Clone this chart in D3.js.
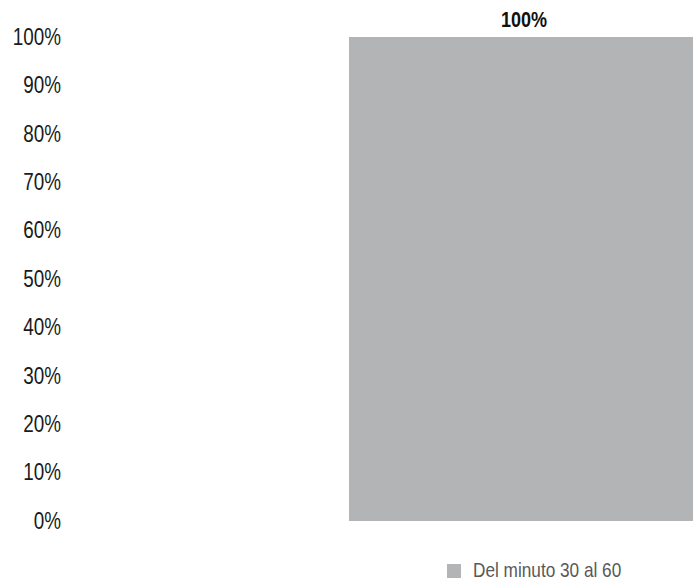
<!DOCTYPE html>
<html><head><meta charset="utf-8">
<script src="https://cdn.jsdelivr.net/npm/d3@7"></script>
<style>html,body{margin:0;padding:0;background:#fff;overflow:hidden}</style>
</head><body>
<svg id="chart" width="693" height="583"></svg>
<script>
const categories = ["Total"];
const seriesName = "Del minuto 30 al 60";
const values = [100];
const tickValues = [0, 10, 20, 30, 40, 50, 60, 70, 80, 90, 100];
const tickLabels = ["0%", "10%", "20%", "30%", "40%", "50%", "60%", "70%", "80%", "90%", "100%"];

const svg = d3.select("#chart");
const font = "'Liberation Sans', Arial, sans-serif";
const narrow = "scale(0.82,1)";
const barColor = "#b2b4b5";

const y = d3.scaleLinear().domain([0, 100]).range([521, 37]);
const x = d3.scaleBand().domain(categories).range([349, 699]).paddingInner(0).paddingOuter(0);

const yAxis = d3.axisLeft(y).tickValues(tickValues).tickFormat((d, i) => tickLabels[i]).tickSize(0).tickPadding(0);
const gy = svg.append("g").attr("transform", "translate(61,0)").call(yAxis);
gy.select(".domain").remove();
gy.selectAll("text").attr("font-family", font).attr("font-size", 23).attr("fill", "#1a1a1a")
  .attr("x", 0).attr("transform", narrow);

svg.append("g").selectAll("g").data(values).join("g")
  .attr("transform", (d, i) => `translate(${x(categories[i]) + x.bandwidth() / 2},${y(d) - 10})`)
  .append("text")
  .attr("text-anchor", "middle")
  .attr("transform", narrow)
  .attr("font-family", font).attr("font-weight", "bold").attr("font-size", 22)
  .attr("fill", "#111")
  .text(d => d + "%");

svg.append("g").selectAll("rect").data(values).join("rect")
  .attr("x", (d, i) => x(categories[i]))
  .attr("width", x.bandwidth())
  .attr("y", d => y(d))
  .attr("height", d => y(0) - y(d))
  .attr("fill", barColor);

const lg = svg.append("g").attr("transform", "translate(447,564)");
lg.append("rect").attr("width", 14).attr("height", 14).attr("fill", barColor);
lg.append("g").attr("transform", "translate(26,13)")
  .append("text").attr("transform", narrow).attr("font-family", font).attr("font-size", 21)
  .attr("fill", "#595959").text(seriesName);
</script>
</body></html>
